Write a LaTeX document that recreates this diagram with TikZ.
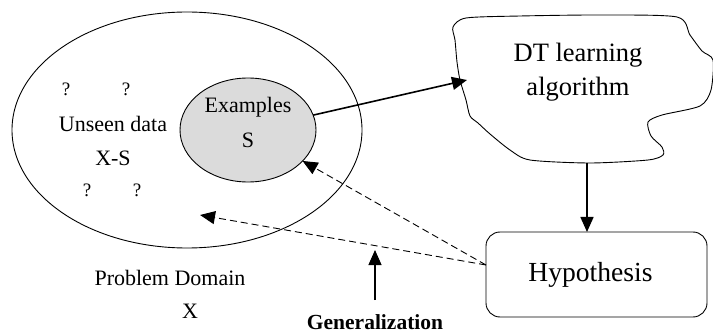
\documentclass[tikz,border=0pt]{standalone}
\usepackage{fontspec}
\setmainfont{Liberation Serif}
\usetikzlibrary{arrows.meta,shapes.geometric}
\begin{document}
\begin{tikzpicture}[x=1pt,y=-1pt,
  every node/.style={inner sep=0pt,outer sep=0pt},
  txt/.style={font=\fontsize{22}{26}\selectfont},
  qm/.style={font=\fontsize{19}{22}\selectfont},
  big/.style={font=\fontsize{26.5}{31}\selectfont},
  tip/.style={-{Triangle[length=15pt,width=13pt]}},
  solidarrow/.style={line width=1.6pt,tip},
  dasharrow/.style={line width=0.9pt,dash pattern=on 7pt off 4pt,tip}]
\useasboundingbox (0,0) rectangle (713,334);

% problem domain and the sample inside it
\node[draw,line width=0.9pt,ellipse,minimum width=350pt,minimum height=236pt] (dom) at (187,130) {};
\node[draw,line width=0.9pt,ellipse,fill=black!14,minimum width=136pt,minimum height=104pt] (ex) at (248,130) {};
\node[txt] (exa) at (248,107) {Examples};
\node[txt] (exs) at (248,140) {S};

\node[qm] (q1) at (66,89) {?};
\node[qm] (q2) at (126,89) {?};
\node[txt] (un) at (113,124) {Unseen data};
\node[txt] (xs) at (113,158) {X-S};
\node[qm] (q3) at (87,190) {?};
\node[qm] (q4) at (137,190) {?};

\node[txt] (pd) at (170,278) {Problem Domain};
\node[txt] (px) at (190,311) {X};

% learning algorithm as an irregular blob
\draw[line width=0.9pt] plot[smooth cycle,tension=0.45] coordinates {
  (453,27) (466,18) (520,16) (600,15) (677,17) (690,35) (702,51) (713,60)
  (711,90) (700,106) (662,115) (648,122) (651,136) (662,147) (663,155)
  (648,160) (590,163) (530,160) (510,150) (490,134) (478,123) (470,116)
  (466,100) (460,80) (457,62) (455,40)};
\node[big] (dt1) at (578,55) {DT learning};
\node[big] (dt2) at (578,89) {algorithm};
\coordinate (cloudL) at (467,80);
\coordinate (cloudB) at (587,163);

% hypothesis box
\node[draw,line width=0.9pt,rounded corners=14pt,minimum width=221pt,minimum height=85pt] (hyp) at (596.5,274.5) {};
\node[font=\fontsize{27.6}{32}\selectfont] (hyt) at (590.5,275) {Hypothesis};
\coordinate (hypL) at (486,265);
\coordinate (unseenPt) at (200,215);

% connectors
\draw[solidarrow] (ex) -- (cloudL);
\draw[solidarrow] (cloudB) -- (cloudB |- hyp.north);
\draw[dasharrow] (hypL) -- (ex);
\draw[dasharrow] (hypL) -- (unseenPt);

% generalization label
\node[font=\fontsize{21.5}{25}\selectfont\bfseries] (gen) at (375,322) {Generalization};
\coordinate (genTop) at (375,250);
\coordinate (genBot) at (375,300);
\draw[line width=1.1pt,tip] (genBot) -- (genTop);
\end{tikzpicture}
\end{document}
